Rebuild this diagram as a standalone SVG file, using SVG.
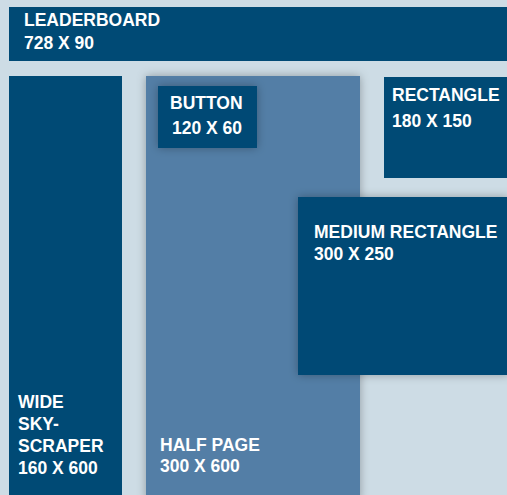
<svg xmlns="http://www.w3.org/2000/svg" width="507" height="495" viewBox="0 0 507 495">
<style>
.d{fill:#004a75}
.h{fill:#527ea6}
text{font-family:"Liberation Sans",Arial,sans-serif;font-weight:bold;font-size:17.5px;fill:#ffffff}
</style>
<defs>
<filter id="sh" x="-20%" y="-20%" width="140%" height="140%">
<feDropShadow dx="0" dy="0" stdDeviation="5" flood-color="#000" flood-opacity="0.3"/>
</filter>
</defs>
<rect width="507" height="495" fill="#cddce5"/>
<g id="leaderboard">
<rect class="d" x="9" y="7" width="500" height="54"/>
<text x="24" y="26">LEADERBOARD</text>
<text x="24" y="49">728 X 90</text>
</g>
<g id="wide-skyscraper">
<rect class="d" x="9" y="76" width="113" height="425"/>
<text x="18" y="408">WIDE</text>
<text x="18" y="430">SKY-</text>
<text x="18" y="452">SCRAPER</text>
<text x="18" y="474">160 X 600</text>
</g>
<g id="half-page">
<rect class="h" x="146" y="76" width="214" height="425" filter="url(#sh)"/>
<text x="160" y="451">HALF PAGE</text>
<text x="160" y="472">300 X 600</text>
</g>
<g id="button">
<rect class="d" x="158" y="86" width="99" height="62" filter="url(#sh)"/>
<text x="170" y="109">BUTTON</text>
<text x="172" y="134">120 X 60</text>
</g>
<g id="rectangle">
<rect class="d" x="384" y="77" width="125" height="101"/>
<text x="392" y="101">RECTANGLE</text>
<text x="392" y="127">180 X 150</text>
</g>
<g id="medium-rectangle">
<rect class="d" x="298" y="197" width="211" height="178" filter="url(#sh)"/>
<text x="314" y="238">MEDIUM RECTANGLE</text>
<text x="314" y="260">300 X 250</text>
</g>
</svg>
